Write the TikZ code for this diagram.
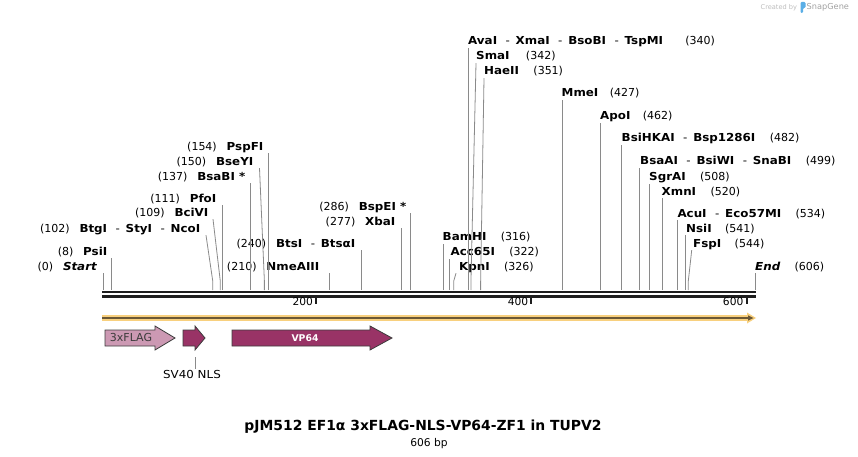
\documentclass[tikz,border=0pt]{standalone}
\usepackage{fontspec}
\setmainfont{DejaVu Sans}
\newfontfamily\enzfont[FakeStretch=1.08]{DejaVu Sans}
\usetikzlibrary{positioning}
\definecolor{seqblack}{HTML}{1E1E1E}
\definecolor{cutgray}{HTML}{8A8A8A}
\definecolor{flagpink}{HTML}{CC99B3}
\definecolor{vpmag}{HTML}{993366}
\definecolor{orfgold}{HTML}{F8D07E}
\definecolor{orfdark}{HTML}{6B5836}
\definecolor{featline}{HTML}{3C3C3C}
\definecolor{logogray}{HTML}{BDBDBD}
\definecolor{logoblue}{HTML}{5AAEE6}
\newcommand{\dsep}{\hspace{8.5pt}\textmd{-}\hspace{5.8pt}}
\begin{document}
\begin{tikzpicture}[x=1pt, y=-1pt, node distance=9.5pt,
  enz/.style={inner xsep=0pt, inner ysep=1pt, text height=8pt, text depth=2pt, font=\enzfont\fontsize{11}{12}\selectfont\bfseries},
  bp/.style={inner xsep=0pt, inner ysep=1pt, text height=8pt, text depth=2pt, font=\fontsize{11}{12}\selectfont},
  cut/.style={cutgray, line width=0.8pt},
  feat/.style={draw=featline, line width=0.8pt}]
\useasboundingbox (0,0) rectangle (858,457);
% site positions on the sequence
\foreach \p in {0,8,102,109,111,137,150,154,210,240,277,286,316,322,326,340,342,351,427,462,482,499,508,520,534,541,544,606}
  \coordinate (s\p) at ({103+1.0759*\p},290);
% sequence
\draw[seqblack, line width=2.5pt] (102.3,292.2) -- (755.5,292.2);
\draw[seqblack, line width=2.5pt] (102.3,296.4) -- (755.5,296.4);
\foreach \t in {200,400,600}{
  \coordinate (t\t) at ({103+1.0759*\t-2},297);
  \draw[seqblack, line width=2pt] (t\t) -- ++(0,6.5);
  \node[bp, font=\fontsize{10.67}{12}\selectfont, anchor=east] (l\t) at ([xshift=-3pt,yshift=-5.5pt]t\t) {\t};
}
% sites left of the line
\node[enz, anchor=east] (Start) at (97,267) {\itshape Start};
\node[bp, left=of Start] (Startp) {(0)};
\node[enz, anchor=east] (PsiI) at (107.5,252) {PsiI};
\node[bp, left=of PsiI] (PsiIp) {(8)};
\node[enz, anchor=east] (BtgI) at (200.5,229) {BtgI\dsep StyI\dsep NcoI};
\node[bp, left=of BtgI] (BtgIp) {(102)};
\node[enz, anchor=east] (BciVI) at (208.5,213) {BciVI};
\node[bp, left=of BciVI] (BciVIp) {(109)};
\node[enz, anchor=east] (PfoI) at (216.5,199) {PfoI};
\node[bp, left=of PfoI] (PfoIp) {(111)};
\node[enz, anchor=east] (BsaBI) at (245.5,177) {BsaBI *};
\node[bp, left=of BsaBI] (BsaBIp) {(137)};
\node[enz, anchor=east] (BseYI) at (253.5,162) {BseYI};
\node[bp, left=of BseYI] (BseYIp) {(150)};
\node[enz, anchor=east] (PspFI) at (263.5,147) {PspFI};
\node[bp, left=of PspFI] (PspFIp) {(154)};
\node[enz, anchor=east] (NmeAIII) at (319.5,267) {NmeAIII};
\node[bp, left=of NmeAIII] (NmeAIIIp) {(210)};
\node[enz, anchor=east] (BtsI) at (355.5,244) {BtsI\dsep BtsαI};
\node[bp, left=of BtsI] (BtsIp) {(240)};
\node[enz, anchor=east] (XbaI) at (395.5,222) {XbaI};
\node[bp, left=of XbaI] (XbaIp) {(277)};
\node[enz, anchor=east] (BspEI) at (406.5,207) {BspEI *};
\node[bp, left=of BspEI] (BspEIp) {(286)};
% sites right of the line
\node[enz, anchor=west] (BamHI) at (442.5,237.5) {BamHI};
\node[bp, right=14pt of BamHI] (BamHIp) {(316)};
\node[enz, anchor=west] (Acc65I) at (450.5,252.5) {Acc65I};
\node[bp, right=14pt of Acc65I] (Acc65Ip) {(322)};
\node[enz, anchor=west] (KpnI) at (459,267) {KpnI};
\node[bp, right=14pt of KpnI] (KpnIp) {(326)};
\node[enz, anchor=west] (AvaI) at (468,42) {AvaI\dsep XmaI\dsep BsoBI\dsep TspMI};
\node[bp, right=22pt of AvaI] (AvaIp) {(340)};
\node[enz, anchor=west] (SmaI) at (476,57) {SmaI};
\node[bp, right=16pt of SmaI] (SmaIp) {(342)};
\node[enz, anchor=west] (HaeII) at (484,72) {HaeII};
\node[bp, right=14pt of HaeII] (HaeIIp) {(351)};
\node[enz, anchor=west] (MmeI) at (561.5,94) {MmeI};
\node[bp, right=11pt of MmeI] (MmeIp) {(427)};
\node[enz, anchor=west] (ApoI) at (600,117) {ApoI};
\node[bp, right=12pt of ApoI] (ApoIp) {(462)};
\node[enz, anchor=west] (BsiHKAI) at (621.5,139) {BsiHKAI\dsep Bsp1286I};
\node[bp, right=14pt of BsiHKAI] (BsiHKAIp) {(482)};
\node[enz, anchor=west] (BsaAI) at (640,161.5) {BsaAI\dsep BsiWI\dsep SnaBI};
\node[bp, right=14pt of BsaAI] (BsaAIp) {(499)};
\node[enz, anchor=west] (SgrAI) at (649,177.5) {SgrAI};
\node[bp, right=14pt of SgrAI] (SgrAIp) {(508)};
\node[enz, anchor=west] (XmnI) at (661.5,192) {XmnI};
\node[bp, right=14pt of XmnI] (XmnIp) {(520)};
\node[enz, anchor=west] (AcuI) at (677.3,214) {AcuI\dsep Eco57MI};
\node[bp, right=14pt of AcuI] (AcuIp) {(534)};
\node[enz, anchor=west] (NsiI) at (686,229) {NsiI};
\node[bp, right=13pt of NsiI] (NsiIp) {(541)};
\node[enz, anchor=west] (FspI) at (693,244) {FspI};
\node[bp, right=13pt of FspI] (FspIp) {(544)};
\node[enz, anchor=west] (End) at (755,267) {\itshape End};
\node[bp, right=14pt of End] (Endp) {(606)};
% cut lines
\foreach \p/\n in {0/Start, 8/PsiI, 111/PfoI, 137/BsaBI, 154/PspFI, 210/NmeAIII, 240/BtsI, 277/XbaI, 286/BspEI, 316/BamHI, 322/Acc65I, 340/AvaI, 427/MmeI, 462/ApoI, 482/BsiHKAI, 499/BsaAI, 508/SgrAI, 520/XmnI, 534/AcuI, 541/NsiI, 606/End}
  \draw[cut] (s\p) -- (s\p |- \n.south);
\draw[cut] (s102) -- (s102 |- 0,281) -- ([xshift=5.5pt]BtgI.south east);
\draw[cut] (s109) -- (s109 |- 0,281) -- ([xshift=4.5pt]BciVI.south east);
\draw[cut] (s150) -- (s150 |- 0,281) -- ([xshift=6pt]BseYI.south east);
\draw[cut] (s326) -- (s326 |- 0,281) -- ([xshift=-3pt]KpnI.south west);
\draw[cut] (s342) -- (s342 |- 0,281) -- (SmaI.south west);
\draw[cut] (s351) -- (s351 |- 0,281) -- (HaeII.south west);
\draw[cut] (s544) -- (s544 |- 0,281) -- ([xshift=-1.3pt]FspI.south west);
% orf line
\draw[orfgold, line width=5.5pt] (102,318) -- (749,318);
\fill[orfgold] (747,312.5) -- (756,318) -- (747,323.5) -- cycle;
\draw[orfdark, line width=1.8pt] (102,318) -- (749,318);
\fill[orfdark] (748,315.3) -- (753.5,318) -- (748,320.7) -- cycle;
% features
\draw[feat, fill=flagpink] (105,330) -- (155,330) -- (155,326) -- (175,338) -- (155,350) -- (155,346) -- (105,346) -- cycle;
\node[bp, text=featline] (flag) at (131,338) {3xFLAG};
\draw[feat, fill=vpmag] (183,330) -- (195,330) -- (195,326) -- (205,338) -- (195,350) -- (195,346) -- (183,346) -- cycle;
\draw[feat, fill=vpmag] (232,330) -- (370,330) -- (370,326) -- (392,338) -- (370,350) -- (370,346) -- (232,346) -- cycle;
\node[bp, text=white, font=\fontsize{9.3}{11}\selectfont\bfseries] (vp) at (305,338) {VP64};
\coordinate (nls) at (195,357);
\node[bp, font=\enzfont\fontsize{11}{12}\selectfont] (nlslab) at (192,375) {SV40 NLS};
\draw[cut] (nls) -- (nls |- nlslab.north);
% title
\node[inner sep=0pt, font=\fontsize{13.9}{16}\selectfont\bfseries] (title) at (423,427) {pJM512 EF1α 3xFLAG-NLS-VP64-ZF1 in TUPV2};
\node[bp, font=\fontsize{10.67}{12}\selectfont] (len) at (429,443) {606 bp};
% logo
\node[inner sep=0pt, anchor=west, text=logogray, font=\fontsize{6.6}{8}\selectfont] (created) at (760.5,7.5) {Created by};
\fill[logoblue, rounded corners=1.2pt] (800.5,13) -- (800.5,2) -- (805.5,2) -- (805.5,8) -- (803,8) -- (803,13) -- cycle;
\node[inner sep=0pt, anchor=west, text=logogray!85!black, font=\fontsize{8.2}{10}\selectfont] (snapgene) at (806.5,7.5) {SnapGene};
\end{tikzpicture}
\end{document}
